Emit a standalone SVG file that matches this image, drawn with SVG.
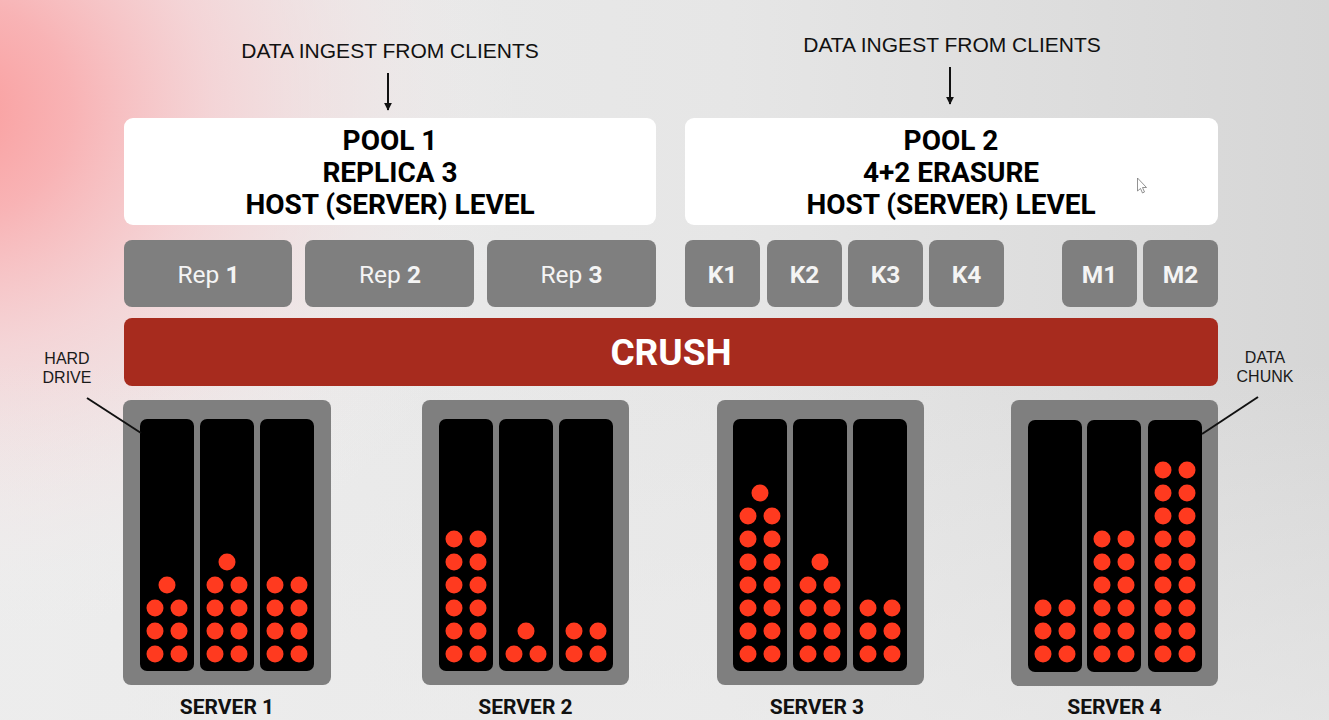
<svg xmlns="http://www.w3.org/2000/svg" width="1329" height="720" viewBox="0 0 1329 720">
<defs>
<linearGradient id="bgR" x1="0" y1="0" x2="1" y2="0">
<stop offset="0" stop-color="#ececec"/>
<stop offset="0.55" stop-color="#e6e6e6"/>
<stop offset="1" stop-color="#d6d6d6"/>
</linearGradient>
<radialGradient id="pink" cx="-40" cy="110" r="560" gradientUnits="userSpaceOnUse" gradientTransform="translate(-40,110) scale(1,0.95) translate(40,-110)">
<stop offset="0" stop-color="#fa9d9d" stop-opacity="1"/>
<stop offset="0.2" stop-color="#f9b0b2" stop-opacity="0.95"/>
<stop offset="0.45" stop-color="#f7cdd0" stop-opacity="0.75"/>
<stop offset="0.75" stop-color="#f3e3e4" stop-opacity="0.4"/>
<stop offset="1" stop-color="#f0f0f0" stop-opacity="0"/>
</radialGradient>
<linearGradient id="bgB" x1="0" y1="0" x2="0" y2="1">
<stop offset="0.5" stop-color="#eeeeee" stop-opacity="0"/>
<stop offset="1" stop-color="#ededed" stop-opacity="0.6"/>
</linearGradient>
<marker id="ah" viewBox="0 0 10 10" refX="9" refY="5" markerWidth="8" markerHeight="8" markerUnits="userSpaceOnUse" orient="auto">
<path d="M0,0 L10,5 L0,10 z" fill="#111"/>
</marker>
<style>
.pool{fill:#ffffff}
.ptxt{font-family:Roboto,"Liberation Sans",sans-serif;font-weight:bold;font-size:28px;fill:#000000;text-anchor:middle}
.chip{fill:#7f7f7f}
.ctxt{font-family:Roboto,"Liberation Sans",sans-serif;font-size:24.5px;fill:#f4f4f4;text-anchor:middle}
.b{font-weight:bold}
.crush{fill:#a72b1e}
.srv{fill:#7f7f7f}
.drv{fill:#000000}
.dot{fill:#ff3a1f}
.lbl{font-family:"Liberation Sans",Arial,sans-serif;font-size:16px;fill:#1a1a1a;text-anchor:middle}
.ing{font-family:"Liberation Sans",Arial,sans-serif;font-size:21px;fill:#111;text-anchor:middle}
.stxt{font-family:Roboto,"Liberation Sans",sans-serif;font-weight:bold;font-size:21px;fill:#111;text-anchor:middle}
.conn{stroke:#111;stroke-width:2;fill:none}
</style>
</defs>
<rect x="0" y="0" width="1329" height="720" fill="url(#bgR)"/>
<rect x="0" y="0" width="1329" height="720" fill="url(#pink)"/>
<rect x="0" y="0" width="1329" height="720" fill="url(#bgB)"/>

<text class="ing" x="390" y="58">DATA INGEST FROM CLIENTS</text>
<text class="ing" x="952" y="52">DATA INGEST FROM CLIENTS</text>

<g id="pool1">
<rect class="pool" x="124" y="118" width="532" height="107" rx="9"/>
<text class="ptxt" x="390" y="150">POOL 1</text>
<text class="ptxt" x="390" y="182">REPLICA 3</text>
<text class="ptxt" x="390" y="214">HOST (SERVER) LEVEL</text>
</g>
<g id="pool2">
<rect class="pool" x="685" y="118" width="533" height="107" rx="9"/>
<text class="ptxt" x="951" y="150">POOL 2</text>
<text class="ptxt" x="951" y="182">4+2 ERASURE</text>
<text class="ptxt" x="951" y="214">HOST (SERVER) LEVEL</text>
</g>

<g id="rep1"><rect class="chip" x="124" y="240" width="168" height="67" rx="8"/><text class="ctxt" x="208.5" y="283">Rep <tspan class="b">1</tspan></text></g>
<g id="rep2"><rect class="chip" x="305" y="240" width="169" height="67" rx="8"/><text class="ctxt" x="390" y="283">Rep <tspan class="b">2</tspan></text></g>
<g id="rep3"><rect class="chip" x="487" y="240" width="169" height="67" rx="8"/><text class="ctxt" x="571.5" y="283">Rep <tspan class="b">3</tspan></text></g>
<g id="k1"><rect class="chip" x="685" y="240" width="75" height="67" rx="8"/><text class="ctxt b" x="722.5" y="283">K1</text></g>
<g id="k2"><rect class="chip" x="767" y="240" width="75" height="67" rx="8"/><text class="ctxt b" x="804.5" y="283">K2</text></g>
<g id="k3"><rect class="chip" x="848" y="240" width="75" height="67" rx="8"/><text class="ctxt b" x="885.5" y="283">K3</text></g>
<g id="k4"><rect class="chip" x="929" y="240" width="75" height="67" rx="8"/><text class="ctxt b" x="966.5" y="283">K4</text></g>
<g id="m1"><rect class="chip" x="1062" y="240" width="75" height="67" rx="8"/><text class="ctxt b" x="1099.5" y="283">M1</text></g>
<g id="m2"><rect class="chip" x="1143" y="240" width="75" height="67" rx="8"/><text class="ctxt b" x="1180.5" y="283">M2</text></g>

<g id="crush">
<rect class="crush" x="124" y="318" width="1094" height="68" rx="8"/>
<text x="671" y="365" text-anchor="middle" font-family="Roboto,'Liberation Sans',sans-serif" font-weight="bold" font-size="37" fill="#ffffff">CRUSH</text>
</g>

<g id="server1" transform="translate(123,400)">
<rect class="srv" x="0" y="0" width="208" height="285" rx="8"/>
<rect class="drv" x="17" y="19" width="54" height="252" rx="7"/>
<rect class="drv" x="77" y="19" width="54" height="252" rx="7"/>
<rect class="drv" x="137" y="19" width="54" height="252" rx="7"/>
<circle class="dot" cx="32" cy="254" r="8.5"/><circle class="dot" cx="56" cy="254" r="8.5"/>
<circle class="dot" cx="32" cy="231" r="8.5"/><circle class="dot" cx="56" cy="231" r="8.5"/>
<circle class="dot" cx="32" cy="208" r="8.5"/><circle class="dot" cx="56" cy="208" r="8.5"/>
<circle class="dot" cx="44" cy="185" r="8.5"/>
<circle class="dot" cx="92" cy="254" r="8.5"/><circle class="dot" cx="116" cy="254" r="8.5"/>
<circle class="dot" cx="92" cy="231" r="8.5"/><circle class="dot" cx="116" cy="231" r="8.5"/>
<circle class="dot" cx="92" cy="208" r="8.5"/><circle class="dot" cx="116" cy="208" r="8.5"/>
<circle class="dot" cx="92" cy="185" r="8.5"/><circle class="dot" cx="116" cy="185" r="8.5"/>
<circle class="dot" cx="104" cy="162" r="8.5"/>
<circle class="dot" cx="152" cy="254" r="8.5"/><circle class="dot" cx="176" cy="254" r="8.5"/>
<circle class="dot" cx="152" cy="231" r="8.5"/><circle class="dot" cx="176" cy="231" r="8.5"/>
<circle class="dot" cx="152" cy="208" r="8.5"/><circle class="dot" cx="176" cy="208" r="8.5"/>
<circle class="dot" cx="152" cy="185" r="8.5"/><circle class="dot" cx="176" cy="185" r="8.5"/>
<text class="stxt" x="104" y="314">SERVER 1</text>
</g>

<g id="server2" transform="translate(422,400)">
<rect class="srv" x="0" y="0" width="207" height="285" rx="8"/>
<rect class="drv" x="17" y="19" width="54" height="252" rx="7"/>
<rect class="drv" x="77" y="19" width="54" height="252" rx="7"/>
<rect class="drv" x="137" y="19" width="54" height="252" rx="7"/>
<circle class="dot" cx="32" cy="254" r="8.5"/><circle class="dot" cx="56" cy="254" r="8.5"/>
<circle class="dot" cx="32" cy="231" r="8.5"/><circle class="dot" cx="56" cy="231" r="8.5"/>
<circle class="dot" cx="32" cy="208" r="8.5"/><circle class="dot" cx="56" cy="208" r="8.5"/>
<circle class="dot" cx="32" cy="185" r="8.5"/><circle class="dot" cx="56" cy="185" r="8.5"/>
<circle class="dot" cx="32" cy="162" r="8.5"/><circle class="dot" cx="56" cy="162" r="8.5"/>
<circle class="dot" cx="32" cy="139" r="8.5"/><circle class="dot" cx="56" cy="139" r="8.5"/>
<circle class="dot" cx="92" cy="254" r="8.5"/><circle class="dot" cx="116" cy="254" r="8.5"/>
<circle class="dot" cx="104" cy="231" r="8.5"/>
<circle class="dot" cx="152" cy="254" r="8.5"/><circle class="dot" cx="176" cy="254" r="8.5"/>
<circle class="dot" cx="152" cy="231" r="8.5"/><circle class="dot" cx="176" cy="231" r="8.5"/>
<text class="stxt" x="103.5" y="314">SERVER 2</text>
</g>

<g id="server3" transform="translate(717,400)">
<rect class="srv" x="0" y="0" width="207" height="285" rx="8"/>
<rect class="drv" x="16" y="19" width="54" height="252" rx="7"/>
<rect class="drv" x="76" y="19" width="54" height="252" rx="7"/>
<rect class="drv" x="136" y="19" width="54" height="252" rx="7"/>
<circle class="dot" cx="31" cy="254" r="8.5"/><circle class="dot" cx="55" cy="254" r="8.5"/>
<circle class="dot" cx="31" cy="231" r="8.5"/><circle class="dot" cx="55" cy="231" r="8.5"/>
<circle class="dot" cx="31" cy="208" r="8.5"/><circle class="dot" cx="55" cy="208" r="8.5"/>
<circle class="dot" cx="31" cy="185" r="8.5"/><circle class="dot" cx="55" cy="185" r="8.5"/>
<circle class="dot" cx="31" cy="162" r="8.5"/><circle class="dot" cx="55" cy="162" r="8.5"/>
<circle class="dot" cx="31" cy="139" r="8.5"/><circle class="dot" cx="55" cy="139" r="8.5"/>
<circle class="dot" cx="31" cy="116" r="8.5"/><circle class="dot" cx="55" cy="116" r="8.5"/>
<circle class="dot" cx="43" cy="93" r="8.5"/>
<circle class="dot" cx="91" cy="254" r="8.5"/><circle class="dot" cx="115" cy="254" r="8.5"/>
<circle class="dot" cx="91" cy="231" r="8.5"/><circle class="dot" cx="115" cy="231" r="8.5"/>
<circle class="dot" cx="91" cy="208" r="8.5"/><circle class="dot" cx="115" cy="208" r="8.5"/>
<circle class="dot" cx="91" cy="185" r="8.5"/><circle class="dot" cx="115" cy="185" r="8.5"/>
<circle class="dot" cx="103" cy="162" r="8.5"/>
<circle class="dot" cx="151" cy="254" r="8.5"/><circle class="dot" cx="175" cy="254" r="8.5"/>
<circle class="dot" cx="151" cy="231" r="8.5"/><circle class="dot" cx="175" cy="231" r="8.5"/>
<circle class="dot" cx="151" cy="208" r="8.5"/><circle class="dot" cx="175" cy="208" r="8.5"/>
<text class="stxt" x="100" y="314">SERVER 3</text>
</g>

<g id="server4" transform="translate(1011,400)">
<rect class="srv" x="0" y="0" width="207" height="286" rx="8"/>
<rect class="drv" x="17" y="20" width="54" height="252" rx="7"/>
<rect class="drv" x="76" y="20" width="54" height="252" rx="7"/>
<rect class="drv" x="137" y="20" width="54" height="252" rx="7"/>
<circle class="dot" cx="32" cy="254" r="8.5"/><circle class="dot" cx="56" cy="254" r="8.5"/>
<circle class="dot" cx="32" cy="231" r="8.5"/><circle class="dot" cx="56" cy="231" r="8.5"/>
<circle class="dot" cx="32" cy="208" r="8.5"/><circle class="dot" cx="56" cy="208" r="8.5"/>
<circle class="dot" cx="91" cy="254" r="8.5"/><circle class="dot" cx="115" cy="254" r="8.5"/>
<circle class="dot" cx="91" cy="231" r="8.5"/><circle class="dot" cx="115" cy="231" r="8.5"/>
<circle class="dot" cx="91" cy="208" r="8.5"/><circle class="dot" cx="115" cy="208" r="8.5"/>
<circle class="dot" cx="91" cy="185" r="8.5"/><circle class="dot" cx="115" cy="185" r="8.5"/>
<circle class="dot" cx="91" cy="162" r="8.5"/><circle class="dot" cx="115" cy="162" r="8.5"/>
<circle class="dot" cx="91" cy="139" r="8.5"/><circle class="dot" cx="115" cy="139" r="8.5"/>
<circle class="dot" cx="152" cy="254" r="8.5"/><circle class="dot" cx="176" cy="254" r="8.5"/>
<circle class="dot" cx="152" cy="231" r="8.5"/><circle class="dot" cx="176" cy="231" r="8.5"/>
<circle class="dot" cx="152" cy="208" r="8.5"/><circle class="dot" cx="176" cy="208" r="8.5"/>
<circle class="dot" cx="152" cy="185" r="8.5"/><circle class="dot" cx="176" cy="185" r="8.5"/>
<circle class="dot" cx="152" cy="162" r="8.5"/><circle class="dot" cx="176" cy="162" r="8.5"/>
<circle class="dot" cx="152" cy="139" r="8.5"/><circle class="dot" cx="176" cy="139" r="8.5"/>
<circle class="dot" cx="152" cy="116" r="8.5"/><circle class="dot" cx="176" cy="116" r="8.5"/>
<circle class="dot" cx="152" cy="93" r="8.5"/><circle class="dot" cx="176" cy="93" r="8.5"/>
<circle class="dot" cx="152" cy="70" r="8.5"/><circle class="dot" cx="176" cy="70" r="8.5"/>
<text class="stxt" x="103.5" y="314">SERVER 4</text>
</g>

<g id="label-hard-drive">
<text class="lbl" x="67" y="364">HARD</text>
<text class="lbl" x="67" y="383">DRIVE</text>
</g>
<g id="label-data-chunk">
<text class="lbl" x="1265" y="363">DATA</text>
<text class="lbl" x="1265" y="382">CHUNK</text>
</g>

<g id="connectors">
<line class="conn" x1="388" y1="73" x2="388" y2="110" marker-end="url(#ah)"/>
<line class="conn" x1="950" y1="67" x2="950" y2="104" marker-end="url(#ah)"/>
<line class="conn" x1="87" y1="398" x2="141" y2="433"/>
<line class="conn" x1="1258" y1="397" x2="1202" y2="434"/>
</g>

<path d="M1137.5,178 L1137.5,191 L1140.5,188.5 L1142.5,193 L1144.5,192 L1142.5,187.5 L1146.5,187.5 Z" fill="#ffffff" stroke="#777" stroke-width="0.8"/>
</svg>
